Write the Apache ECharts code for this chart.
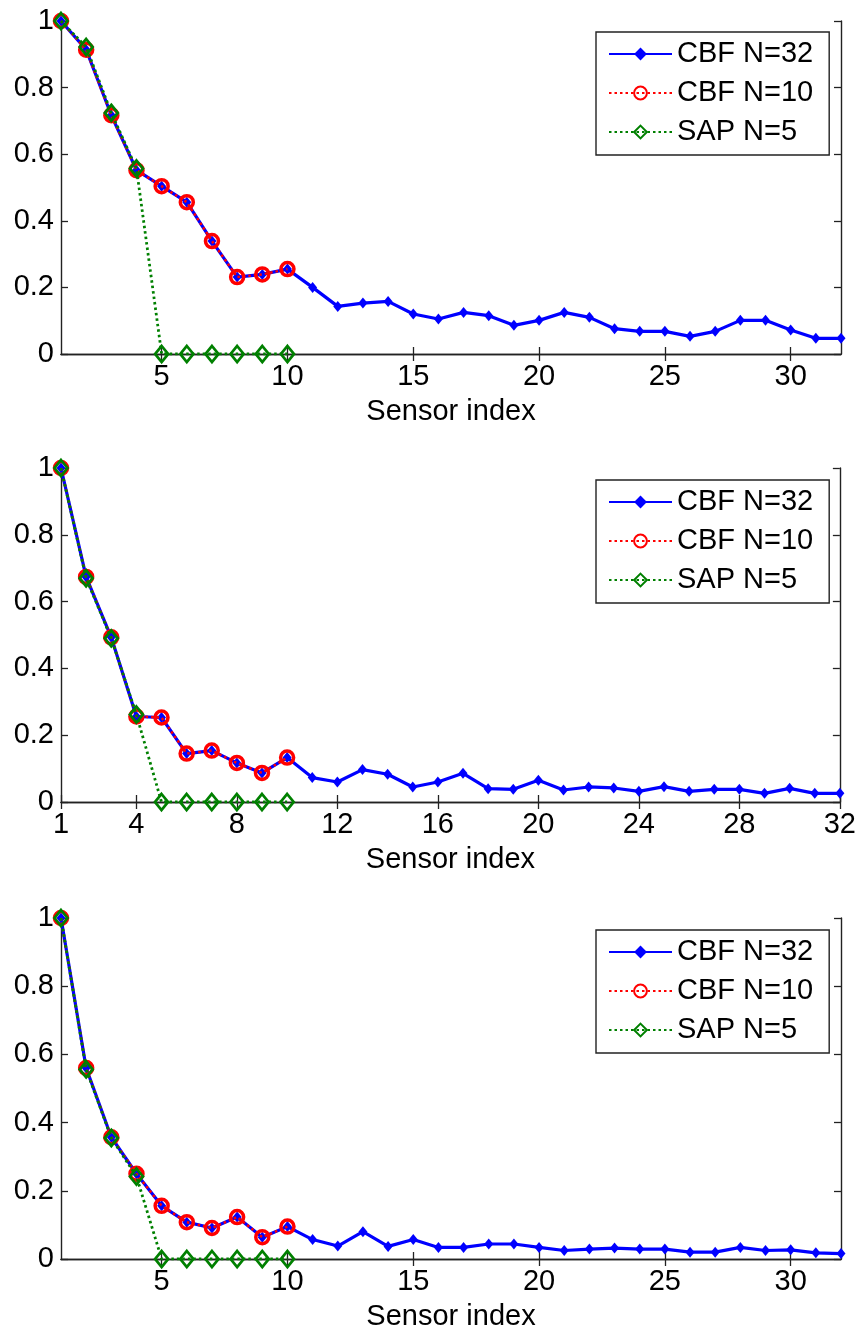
<!DOCTYPE html>
<html>
<head>
<meta charset="utf-8">
<script src="https://cdn.jsdelivr.net/npm/echarts@6/dist/echarts.min.js"></script>
<style>html,body{margin:0;padding:0;background:#fff;}#c{width:859px;height:1333px;}</style>
</head>
<body>
<div id="c"></div>
<script>
// ---- data ----
const sensorIdx = [1,2,3,4,5,6,7,8,9,10,11,12,13,14,15,16,17,18,19,20,21,22,23,24,25,26,27,28,29,30,31,32];
const seriesNames = ['CBF N=32', 'CBF N=10', 'SAP N=5'];
const xLabel = 'Sensor index';
const xTicksTop = [5,10,15,20,25,30];
const xTicksMid = [1,4,8,12,16,20,24,28,32];
const yTicks = [0,0.2,0.4,0.6,0.8,1];

// panel 1
const cbf32_a = [1.000,0.914,0.717,0.552,0.504,0.456,0.339,0.231,0.239,0.255,0.200,0.143,0.153,0.158,0.120,0.105,0.125,0.115,0.086,0.101,0.125,0.110,0.076,0.068,0.068,0.053,0.068,0.101,0.101,0.072,0.047,0.047];
const cbf10_a = [1.000,0.914,0.717,0.552,0.504,0.456,0.339,0.231,0.239,0.255];
const sap5_a  = [1.000,0.922,0.724,0.557,0,0,0,0,0,0];
// panel 2
const cbf32_b = [1.000,0.674,0.493,0.256,0.253,0.145,0.154,0.117,0.087,0.133,0.073,0.060,0.097,0.083,0.045,0.060,0.086,0.040,0.038,0.065,0.036,0.045,0.042,0.032,0.046,0.032,0.038,0.038,0.026,0.041,0.026,0.026];
const cbf10_b = [1.000,0.674,0.493,0.256,0.253,0.145,0.154,0.117,0.087,0.133];
const sap5_b  = [1.000,0.670,0.490,0.262,0,0,0,0,0,0];
// panel 3
const cbf32_c = [1.000,0.560,0.357,0.250,0.156,0.108,0.091,0.123,0.064,0.095,0.057,0.038,0.080,0.037,0.057,0.034,0.034,0.044,0.044,0.034,0.025,0.029,0.032,0.029,0.029,0.020,0.020,0.034,0.025,0.027,0.018,0.016];
const cbf10_c = [1.000,0.560,0.357,0.250,0.156,0.108,0.091,0.123,0.064,0.095];
const sap5_c  = [1.000,0.556,0.355,0.242,0,0,0,0,0,0];

// ---- layout ----
const FONT = "'Liberation Sans', Arial, sans-serif";
const FS = 29;
const panels = [
  {top: 21,  height: 333, legendTop: 32,  ticks: xTicksTop, d: [cbf32_a, cbf10_a, sap5_a]},
  {top: 468, height: 334, legendTop: 480, ticks: xTicksMid, d: [cbf32_b, cbf10_b, sap5_b]},
  {top: 918, height: 341, legendTop: 930, ticks: xTicksTop, d: [cbf32_c, cbf10_c, sap5_c]}
];

function pairs(arr){ return arr.map((v,i)=>[sensorIdx[i], v]); }

const axisLine = {show: true, lineStyle: {color: '#222', width: 1.4}};
const tickStyle = {color: '#222', width: 1.3};
const grid = [], xAxis = [], yAxis = [], series = [], legend = [];

panels.forEach((p, gi) => {
  grid.push({left: 61, right: 18, top: p.top, height: p.height, containLabel: false});
  xAxis.push({
    type: 'value', gridIndex: gi, min: 1, max: 32, position: 'bottom',
    axisLine: axisLine, splitLine: {show: false},
    axisTick: {show: true, inside: true, length: 7, customValues: p.ticks, lineStyle: tickStyle},
    axisLabel: {show: true, customValues: p.ticks, color: '#000', fontSize: FS, fontFamily: FONT, margin: 8},
    name: xLabel, nameLocation: 'middle', nameGap: 43,
    nameTextStyle: {color: '#000', fontSize: FS, fontFamily: FONT}
  });
  xAxis.push({
    type: 'value', gridIndex: gi, min: 1, max: 32, position: 'top',
    axisLine: axisLine, splitLine: {show: false},
    axisTick: {show: true, inside: true, length: 7, customValues: p.ticks, lineStyle: tickStyle},
    axisLabel: {show: false}
  });
  yAxis.push({
    type: 'value', gridIndex: gi, min: 0, max: 1, interval: 0.2, position: 'left',
    axisLine: axisLine, splitLine: {show: false},
    axisTick: {show: true, inside: true, length: 7, lineStyle: tickStyle},
    axisLabel: {color: '#000', fontSize: FS, fontFamily: FONT, margin: 7,
      customValues: yTicks, formatter: v => String(Math.round(v*10)/10)}
  });
  yAxis.push({
    type: 'value', gridIndex: gi, min: 0, max: 1, interval: 0.2, position: 'right',
    axisLine: axisLine, splitLine: {show: false},
    axisTick: {show: true, inside: true, length: 7, lineStyle: tickStyle},
    axisLabel: {show: false}
  });

  const xi = gi*2, yi = gi*2;
  series.push({
    name: seriesNames[0], type: 'line', xAxisIndex: xi, yAxisIndex: yi,
    data: pairs(p.d[0]),
    symbol: 'diamond', symbolSize: [9, 11], showSymbol: true,
    itemStyle: {color: '#0000ff'},
    lineStyle: {color: '#0000ff', width: 3.2, type: 'solid'},
    z: 2
  });
  series.push({
    name: seriesNames[1], type: 'line', xAxisIndex: xi, yAxisIndex: yi,
    data: pairs(p.d[1]),
    symbol: 'circle', symbolSize: 13,
    itemStyle: {color: 'rgba(255,255,255,0)', borderColor: '#ff0000', borderWidth: 3.5},
    lineStyle: {color: '#ff0000', width: 2.5, type: [2.5, 3]},
    z: 3
  });
  series.push({
    name: seriesNames[2], type: 'line', xAxisIndex: xi, yAxisIndex: yi,
    data: pairs(p.d[2]),
    symbol: 'diamond', symbolSize: [13, 16],
    itemStyle: {color: 'rgba(255,255,255,0)', borderColor: '#008000', borderWidth: 2.8},
    lineStyle: {color: '#008000', width: 2.8, type: [2.5, 3]},
    z: 4
  });

  legend.push({
    data: seriesNames, left: 596, top: p.legendTop, orient: 'vertical',
    itemWidth: 63, itemHeight: 16, itemGap: 7,
    padding: [6, 16, 7, 12],
    backgroundColor: '#fff', borderColor: '#222', borderWidth: 1.4,
    textStyle: {color: '#000', fontSize: FS, fontFamily: FONT, lineHeight: 32},
    selectedMode: false
  });
});

const chart = echarts.init(document.getElementById('c'), null, {renderer: 'canvas'});
chart.setOption({
  backgroundColor: '#fff',
  animation: false,
  grid, xAxis, yAxis, series, legend
});
</script>
</body>
</html>
